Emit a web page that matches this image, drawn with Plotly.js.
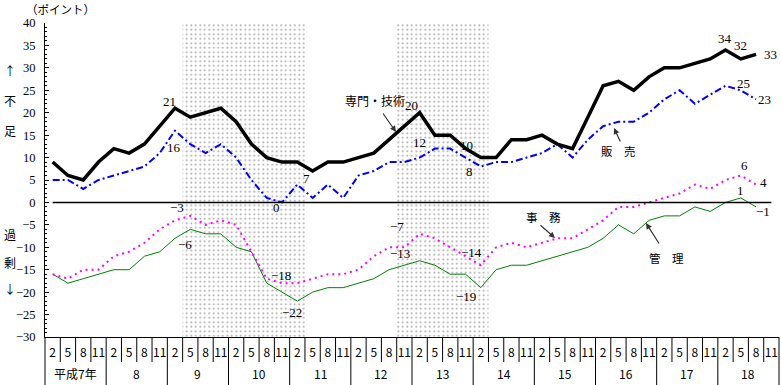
<!DOCTYPE html>
<html><head><meta charset="utf-8">
<script src="https://cdn.plot.ly/plotly-3.0.1.min.js"></script>
<style>html,body{margin:0;padding:0;background:#fff;}#chart{width:781px;height:385px;}</style>
</head><body><div id="chart"></div>
<script>
// ---- data ----
var monthLabels = ['2','5','8','11'];
var yearLabels = ['平成7年','8','9','10','11','12','13','14','15','16','17','18'];
var seriesNames = ['専門・技術','販売','事務','管理'];
var prof = [9,6,5,9,12,11,13,17,21,19,20,21,18,13,
            10,9,9,7,9,9,10,11,14,17,20,15,15,12,10,10,
            14,14,15,13,12,19,26,27,25,28,30,30,31,32,34,32,33,null];
var sales = [5,5,3,5,6,7,8,11,16,13,11,13,10,5,
             1,0,4,1,4,1,6,7,9,9,10,12,12,10,8,9,
             9,10,11,13,10,14,17,18,18,20,23,25,22,24,26,25,23,null];
var clerical = [-16,-17,-15,-15,-12,-11,-9,-6,-4,-3,-5,-4,-5,-11,
                -17,-18,-18,-17,-16,-16,-15,-12,-10,-10,-7,-8,-10,-12,-14,-10,
                -9,-10,-9,-8,-8,-6,-4,-1,-1,0,1,2,4,3,5,6,4,null];
var mgmt = [-16,-18,-17,-16,-15,-15,-12,-11,-8,-6,-7,-7,-10,-11,
            -18,-20,-22,-20,-19,-19,-18,-17,-15,-14,-13,-14,-16,-16,-19,-15,
            -14,-14,-13,-12,-11,-10,-8,-5,-7,-4,-3,-3,-1,-2,0,1,-1,null];
// recession periods (quarter indices, inclusive)
var shadeStart = [9, 23];
var shadeEnd = [16, 28];
// value labels: [series index, quarter index]
var labelPoints = [[0,8],[1,8],[0,17],[1,15],[0,24],[1,25],[0,28],[1,28],
                   [0,44],[0,45],[0,46],[1,45],[1,46],[2,45],[2,46],[3,45],[3,46],
                   [2,9],[3,9],[2,15],[3,16],[2,24],[3,24],[2,28],[3,28]];
var yMin = -30, yMax = 40;

// ---- styles / positions ----
var labelOffsets = [[-5,7],[-1,-17],[-6,-7],[-6,-5],[-8,7],[-15,6],[-14,12],[-11,-5],
                    [0,11],[0,13],[14,0],[3,7],[8,0],[4,10],[7,2],[0,7],[7,-5],
                    [-13,8],[-5,-15],[-1,8],[-5,-11],[-23,7],[-20,7],[-9,13],[-15,-9]];
var serif = 'Liberation Serif, DejaVu Serif, serif';
var jp = 'Noto Sans CJK JP, sans-serif';
var allSeries = [prof, sales, clerical, mgmt];

var n = prof.length;
var xs = [], ticktext = [];
for (var i = 0; i < n; i++) { xs.push(i); ticktext.push(monthLabels[i % 4]); }

var traces = [];
for (var s = 0; s < shadeStart.length; s++) {
  var a = shadeStart[s] - 0.5, b = shadeEnd[s] + 0.5;
  traces.push({x:[a,b,b,a,a], y:[yMin,yMin,yMax,yMax,yMin], mode:'lines', fill:'toself',
    line:{width:0, color:'rgba(0,0,0,0)'}, fillcolor:'#ffffff',
    fillpattern:{shape:'.', size:4.5, solidity:0.14, fgcolor:'#a0a0a0', bgcolor:'#ffffff'},
    hoverinfo:'skip', showlegend:false});
}
traces.push({x:xs, y:mgmt, mode:'lines', line:{color:'#008000', width:1}, name:seriesNames[3]});
traces.push({x:xs, y:clerical, mode:'lines', line:{color:'#ff00ff', width:2, dash:'2px,4px'}, name:seriesNames[2]});
traces.push({x:xs, y:sales, mode:'lines', line:{color:'#0000ff', width:2, dash:'7px,3px,2px,3px'}, name:seriesNames[1]});
traces.push({x:xs, y:prof, mode:'lines', line:{color:'#000000', width:3.5}, name:seriesNames[0]});

var shapes = [];
shapes.push({type:'line', xref:'x', yref:'y', x0:0, x1:n-1, y0:0, y1:0, line:{color:'#000', width:1.5}});
var plotH = 314;
for (var k = 0; k <= n; k++) {
  shapes.push({type:'line', xref:'paper', yref:'paper', x0:k/n, x1:k/n, y0:0,
    y1: (k % 4 === 0) ? -48/plotH : -25/plotH, line:{color:'#000', width:1}});
}

var ann = [];
for (var y = 0; y < yearLabels.length; y++) {
  ann.push({xref:'x', yref:'paper', x:4*y+1.5, y:-36/plotH, text:yearLabels[y], showarrow:false,
    yanchor:'middle', font:{family:jp, size:12, color:'#000'}});
}
for (var m = 0; m < labelPoints.length; m++) {
  var si = labelPoints[m][0], qi = labelPoints[m][1];
  var v = allSeries[si][qi];
  ann.push({xref:'x', yref:'y', x:qi, y:v, text:String(v).replace('-', '−'), showarrow:false,
    xshift:labelOffsets[m][0], yshift:labelOffsets[m][1], font:{family:serif, size:13, color:'#000'}});
}
// series labels with arrows
function px2x(p){ return (p-45)/734*n - 0.5; }
function px2y(p){ return yMax - (p-23)/plotH*(yMax-yMin); }
ann.push({xref:'x', yref:'y', x:px2x(375), y:px2y(100), text:'専門・技術', showarrow:false, font:{family:jp, size:12, color:'#000'}});
ann.push({xref:'x', yref:'y', x:px2x(396), y:px2y(132), text:'', showarrow:true, ax:-14, ay:-20, arrowhead:2, arrowsize:1, arrowwidth:1.2, arrowcolor:'#333', standoff:0});
ann.push({xref:'x', yref:'y', x:px2x(618), y:px2y(151), text:'販　売', showarrow:false, font:{family:jp, size:11.5, color:'#000'}});
ann.push({xref:'x', yref:'y', x:px2x(614), y:px2y(128), text:'', showarrow:true, ax:7, ay:15, arrowhead:2, arrowsize:1, arrowwidth:1.2, arrowcolor:'#333', standoff:0});
ann.push({xref:'x', yref:'y', x:px2x(543), y:px2y(217), text:'事　務', showarrow:false, font:{family:jp, size:11.5, color:'#000'}});
ann.push({xref:'x', yref:'y', x:px2x(555), y:px2y(238), text:'', showarrow:true, ax:-16, ay:-14, arrowhead:2, arrowsize:1, arrowwidth:1.2, arrowcolor:'#333', standoff:0});
ann.push({xref:'x', yref:'y', x:px2x(666), y:px2y(258), text:'管　理', showarrow:false, font:{family:jp, size:11.5, color:'#000'}});
ann.push({xref:'x', yref:'y', x:px2x(646), y:px2y(223), text:'', showarrow:true, ax:14, ay:22, arrowhead:2, arrowsize:1, arrowwidth:1.2, arrowcolor:'#333', standoff:0});
// axis side labels
var sideChars = [['↑',70],['不',101],['足',130],['過',234],['剰',262],['↓',288]];
for (var c = 0; c < sideChars.length; c++) {
  ann.push({xref:'paper', yref:'paper', x:(10-45)/734, y:(337-sideChars[c][1])/plotH, text:sideChars[c][0],
    showarrow:false, xanchor:'center', yanchor:'middle', font:{family:jp, size:12, color:'#000'}});
}
ann.push({xref:'paper', yref:'paper', x:(60-45)/734, y:(337-9)/plotH, text:'（ポイント）', showarrow:false,
  xanchor:'center', yanchor:'middle', font:{family:jp, size:11.5, color:'#000'}});

var layout = {
  width:781, height:385, margin:{l:45, r:2, t:23, b:48},
  paper_bgcolor:'#fff', plot_bgcolor:'#fff', showlegend:false,
  xaxis:{range:[-0.5, n-0.5], tickvals:xs, ticktext:ticktext, ticks:'', showgrid:false, zeroline:false,
    showline:true, linecolor:'#000', linewidth:1, tickfont:{family:jp, size:12, color:'#000'},
    ticklabelstandoff:5, fixedrange:true},
  yaxis:{range:[yMin, yMax], dtick:5, tick0:0, ticks:'inside', ticklen:4, tickcolor:'#000', showgrid:false,
    zeroline:false, showline:true, linecolor:'#000', linewidth:1,
    minor:{dtick:1, ticks:'inside', ticklen:2, tickcolor:'#000'},
    tickfont:{family:serif, size:12.5, color:'#000'}, ticklabelstandoff:6, fixedrange:true},
  shapes:shapes, annotations:ann
};
Plotly.newPlot('chart', traces, layout, {staticPlot:true, displayModeBar:false});
</script></body></html>
